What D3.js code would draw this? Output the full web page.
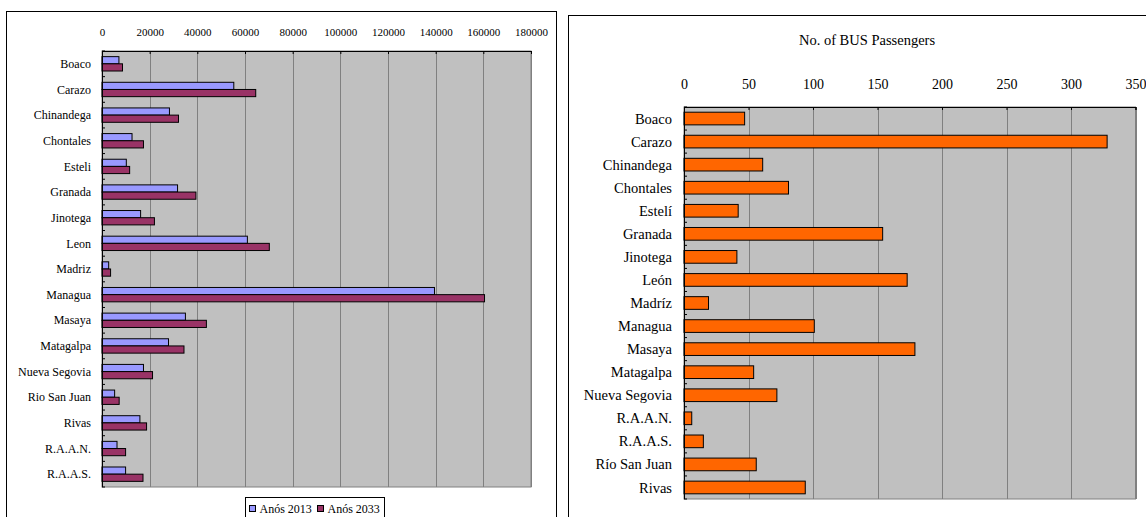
<!DOCTYPE html>
<html>
<head>
<meta charset="utf-8">
<script src="https://cdn.jsdelivr.net/npm/d3@7"></script>
<style>
html,body{margin:0;padding:0;background:#fff;}
svg{display:block;}
text{font-family:"Liberation Serif","Times New Roman",serif;fill:#000;}
</style>
</head>
<body>
<svg id="chart" width="1146" height="517"></svg>
<script>
// ---------- Left chart data ----------
const leftCategories = ["Boaco","Carazo","Chinandega","Chontales","Esteli","Granada","Jinotega","Leon","Madriz","Managua","Masaya","Matagalpa","Nueva Segovia","Rio San Juan","Rivas","R.A.A.N.","R.A.A.S."];
const values2013 = [7100,55300,28300,12600,10200,31700,16200,61000,2800,139500,35000,27900,17400,5300,15900,6300,9900];
const values2033 = [8600,64500,32100,17400,11600,39400,22000,70200,3600,160500,43800,34400,21200,7200,18700,9900,17200];
const seriesNames = ["Anós 2013","Anós 2033"];
const leftTicks = [0,20000,40000,60000,80000,100000,120000,140000,160000,180000];

// ---------- Right chart data ----------
const rightCategories = ["Boaco","Carazo","Chinandega","Chontales","Estelí","Granada","Jinotega","León","Madríz","Managua","Masaya","Matagalpa","Nueva Segovia","R.A.A.N.","R.A.A.S.","Río San Juan","Rivas"];
const busPassengers = [47,328,61,81,42,154,41,173,19,101,179,54,72,6,15,56,94];
const rightTicks = [0,50,100,150,200,250,300,350];
const rightTitle = "No. of BUS Passengers";

const colors = ["#9999FF","#993366"];
const orange = "#FF6600";
const plotBg = "#C0C0C0";
const gridColor = "#808080";

const svg = d3.select("#chart");

// ================= LEFT CHART =================
svg.append("rect").attr("x",6.5).attr("y",11.5).attr("width",550).attr("height",520)
  .attr("fill","#fff").attr("stroke","#000").attr("stroke-width",1);

const L = {x0:102, x1:531, y0:51, y1:487};
const lx = d3.scaleLinear().domain([0,180000]).range([L.x0,L.x1]);
const ly = d3.scaleBand().domain(leftCategories).range([L.y0,L.y1]).paddingInner(0.44).paddingOuter(0.22);
const ly1 = d3.scaleBand().domain(seriesNames).range([0,ly.bandwidth()]);

const lg = svg.append("g");
lg.append("rect").attr("x",L.x0).attr("y",L.y0).attr("width",L.x1-L.x0).attr("height",L.y1-L.y0)
  .attr("fill",plotBg).attr("stroke",gridColor);
// gridlines
lg.selectAll("line.grid").data(leftTicks.slice(1)).join("line")
  .attr("x1",d=>Math.round(lx(d))+0.5).attr("x2",d=>Math.round(lx(d))+0.5)
  .attr("y1",L.y0).attr("y2",L.y1).attr("stroke",gridColor).attr("stroke-width",1);

// bars
const lgroups = lg.selectAll("g.cat").data(leftCategories).join("g")
  .attr("transform",d=>`translate(0,${ly(d)})`);
lgroups.each(function(c,i){
  const vals=[values2013[i],values2033[i]];
  d3.select(this).selectAll("rect").data(vals).join("rect")
    .attr("x",lx(0)).attr("y",(d,j)=>ly1(seriesNames[j]))
    .attr("width",d=>lx(d)-lx(0)).attr("height",ly1.bandwidth())
    .attr("fill",(d,j)=>colors[j]).attr("stroke","#000").attr("stroke-width",1);
});

// top axis
const lTop = d3.axisTop(lx).tickValues(leftTicks).tickSize(-3).tickPadding(15).tickFormat(d3.format("d"));
const lTopG = lg.append("g").attr("transform",`translate(0,${L.y0})`).call(lTop);
lTopG.select(".domain").attr("stroke","#000");
lTopG.selectAll(".tick line").attr("stroke","#000");
lTopG.selectAll("text").style("font-size","11px").attr("font-family",null);

// left axis
const lLeftG = lg.append("g").attr("transform",`translate(${L.x0},0)`);
lLeftG.append("line").attr("x1",0.5).attr("x2",0.5).attr("y1",L.y0).attr("y2",L.y1).attr("stroke","#000");
const lStep = ly.step();
lLeftG.selectAll("line.tk").data(d3.range(leftCategories.length+1)).join("line")
  .attr("x1",0).attr("x2",3).attr("y1",d=>L.y0+d*lStep).attr("y2",d=>L.y0+d*lStep).attr("stroke","#000");
lLeftG.selectAll("text").data(leftCategories).join("text")
  .attr("x",-11).attr("y",d=>ly(d)+ly.bandwidth()/2).attr("dy","0.35em")
  .attr("text-anchor","end").style("font-size","12px").text(d=>d);

// legend
const leg = svg.append("g").attr("transform","translate(245.5,497.5)");
leg.append("rect").attr("width",139).attr("height",30).attr("fill","#fff").attr("stroke","#000");
const legX=[4,72];
seriesNames.forEach((s,i)=>{
  leg.append("rect").attr("x",legX[i]).attr("y",8).attr("width",6).attr("height",6)
    .attr("fill",colors[i]).attr("stroke","#000");
  leg.append("text").attr("x",legX[i]+10).attr("y",15.5).style("font-size","12px").text(s);
});

// ================= RIGHT CHART =================
svg.append("rect").attr("x",568.5).attr("y",15.5).attr("width",600).attr("height",520)
  .attr("fill","#fff").attr("stroke","#000").attr("stroke-width",1);

const R = {x0:684, x1:1135.5, y0:107, y1:499};
svg.append("text").attr("x",867).attr("y",45).attr("text-anchor","middle")
  .style("font-size","14.5px").text(rightTitle);

const rx = d3.scaleLinear().domain([0,350]).range([R.x0,R.x1]);
const ry = d3.scaleBand().domain(rightCategories).range([R.y0,R.y1]).paddingInner(0.45).paddingOuter(0.225);

const rg = svg.append("g");
rg.append("rect").attr("x",R.x0).attr("y",R.y0).attr("width",R.x1-R.x0).attr("height",R.y1-R.y0)
  .attr("fill",plotBg).attr("stroke",gridColor);
rg.selectAll("line.grid").data(rightTicks.slice(1)).join("line")
  .attr("x1",d=>Math.round(rx(d))+0.5).attr("x2",d=>Math.round(rx(d))+0.5)
  .attr("y1",R.y0).attr("y2",R.y1).attr("stroke",gridColor);

rg.selectAll("rect.bar").data(busPassengers).join("rect").attr("class","bar")
  .attr("x",rx(0)).attr("y",(d,i)=>ry(rightCategories[i]))
  .attr("width",d=>rx(d)-rx(0)).attr("height",ry.bandwidth())
  .attr("fill",orange).attr("stroke","#000").attr("stroke-width",1);

const rTop = d3.axisTop(rx).tickValues(rightTicks).tickSize(-3).tickPadding(18).tickFormat(d3.format("d"));
const rTopG = rg.append("g").attr("transform",`translate(0,${R.y0})`).call(rTop);
rTopG.select(".domain").attr("stroke","#000");
rTopG.selectAll(".tick line").attr("stroke","#000");
rTopG.selectAll("text").style("font-size","14px").attr("font-family",null);

const rLeftG = rg.append("g").attr("transform",`translate(${R.x0},0)`);
rLeftG.append("line").attr("x1",0.5).attr("x2",0.5).attr("y1",R.y0).attr("y2",R.y1).attr("stroke","#000");
const rStep = ry.step();
rLeftG.selectAll("line.tk").data(d3.range(rightCategories.length+1)).join("line")
  .attr("x1",0).attr("x2",3).attr("y1",d=>R.y0+d*rStep).attr("y2",d=>R.y0+d*rStep).attr("stroke","#000");
rLeftG.selectAll("text").data(rightCategories).join("text")
  .attr("x",-12).attr("y",d=>ry(d)+ry.bandwidth()/2).attr("dy","0.35em")
  .attr("text-anchor","end").style("font-size","14.5px").text(d=>d);
</script>
</body>
</html>
